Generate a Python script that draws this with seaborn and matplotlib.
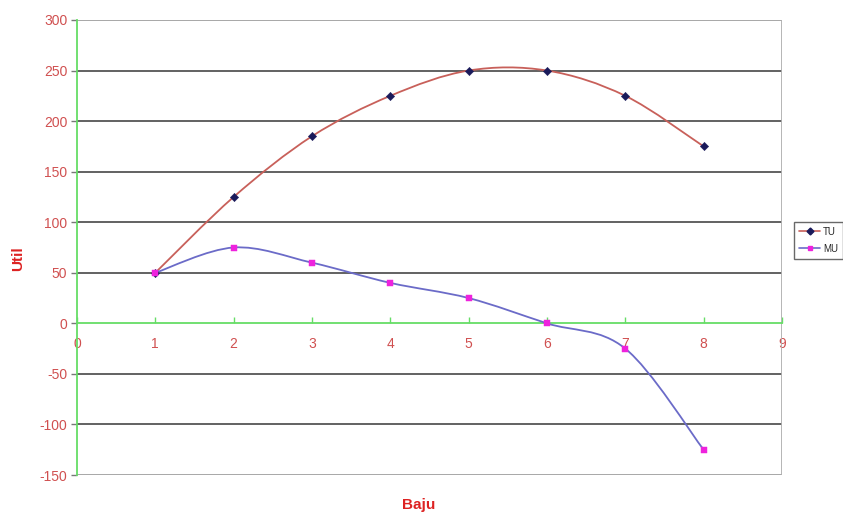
import numpy as np
import pandas as pd
import matplotlib
matplotlib.use("Agg")
import matplotlib.pyplot as plt
from matplotlib.path import Path
from matplotlib.patches import PathPatch
from matplotlib.lines import Line2D
import seaborn as sns

baju = [1, 2, 3, 4, 5, 6, 7, 8]
tu = [50, 125, 185, 225, 250, 250, 225, 175]
mu = [50, 75, 60, 40, 25, 0, -25, -125]
series_names = ["TU", "MU"]
x_ticks = list(range(0, 10))
y_ticks = list(range(-150, 301, 50))

sns.set_theme(style="white")
plt.rcParams['font.family'] = ['Liberation Sans', 'DejaVu Sans']
plt.rcParams['axes.unicode_minus'] = False

fig = plt.figure(figsize=(8.43, 5.18), dpi=100)
ax = fig.add_axes([0.0913, 0.083, 0.8363, 0.8784])

def smooth_path(xs, ys):
    pts = np.column_stack([xs, ys]).astype(float)
    n = len(pts)
    verts = [pts[0]]
    codes = [Path.MOVETO]
    for i in range(n - 1):
        p0 = pts[i - 1] if i > 0 else pts[i]
        p1 = pts[i]
        p2 = pts[i + 1]
        p3 = pts[i + 2] if i + 2 < n else pts[i + 1]
        c1 = p1 + (p2 - p0) / 6.0
        c2 = p2 - (p3 - p1) / 6.0
        verts += [c1, c2, p2]
        codes += [Path.CURVE4] * 3
    return Path(verts, codes)

tu_line = "#c8605a"
mu_line = "#6b6bc8"
ax.add_patch(PathPatch(smooth_path(baju, tu), fill=False, edgecolor=tu_line, lw=1.3, zorder=3))
ax.add_patch(PathPatch(smooth_path(baju, mu), fill=False, edgecolor=mu_line, lw=1.3, zorder=3))

df = pd.DataFrame({"Baju": baju * 2, "Util": tu + mu,
                   "s": [series_names[0]] * len(baju) + [series_names[1]] * len(baju)})
sns.scatterplot(data=df[df.s == "TU"], x="Baju", y="Util", marker="D", color="#1a1a5a",
                s=18, edgecolor="#1a1a5a", ax=ax, zorder=4, legend=False)
sns.scatterplot(data=df[df.s == "MU"], x="Baju", y="Util", marker="s", color="#ee22dd",
                s=16, edgecolor="#ee22dd", ax=ax, zorder=4, legend=False)

ax.set_xlim(0, 9)
ax.set_ylim(-150, 300)
ax.set_yticks(y_ticks)
ax.set_xticks(x_ticks)

for y in y_ticks:
    if y == 0:
        continue
    c = "#a0a0a0" if y in (300, -150) else "#555555"
    ax.axhline(y, color=c, lw=1.3, zorder=1)

for s in ["top", "right"]:
    ax.spines[s].set_visible(False)
ax.axvline(9, color="#b0b0b0", lw=1.3, zorder=1)
ax.spines["left"].set_color("#66dd66")
ax.spines["left"].set_linewidth(1.3)
ax.spines["bottom"].set_position(("data", 0))
ax.spines["bottom"].set_color("#66dd66")
ax.spines["bottom"].set_linewidth(1.3)
ax.spines["bottom"].set_zorder(2)

lab_col = "#d05050"
ax.tick_params(axis="y", direction="out", length=4, color="#777777", width=1,
               labelcolor=lab_col, labelsize=10, pad=3, left=True)
ax.tick_params(axis="x", direction="in", length=4, color="#66dd66", width=1,
               labelcolor=lab_col, labelsize=10, pad=10, bottom=True)
for lbl in ax.get_xticklabels():
    lbl.set_verticalalignment("top")

ax.set_xlabel("")
ax.set_ylabel("")
fig.text(0.497, 0.012, "Baju", color="#dd2222", fontsize=11, fontweight="bold",
         ha="center", va="bottom")
fig.text(0.022, 0.5, "Util", color="#dd2222", fontsize=11, fontweight="bold",
         ha="center", va="center", rotation=90)

handles = [Line2D([], [], color=tu_line, marker="D", markersize=3.5,
                  markerfacecolor="#1a1a5a", markeredgecolor="#1a1a5a", lw=1.2),
           Line2D([], [], color=mu_line, marker="s", markersize=3.5,
                  markerfacecolor="#ee22dd", markeredgecolor="#ee22dd", lw=1.2)]
leg = fig.legend(handles, series_names, loc="upper left",
                 bbox_to_anchor=(794 / 843, 1 - 222 / 518), fontsize=7,
                 frameon=True, fancybox=False, edgecolor="#444444",
                 handlelength=2.2, borderpad=0.5, labelspacing=0.7,
                 handletextpad=0.3, borderaxespad=0)
leg.get_frame().set_linewidth(1.0)

fig.savefig("out.png", dpi=100)
